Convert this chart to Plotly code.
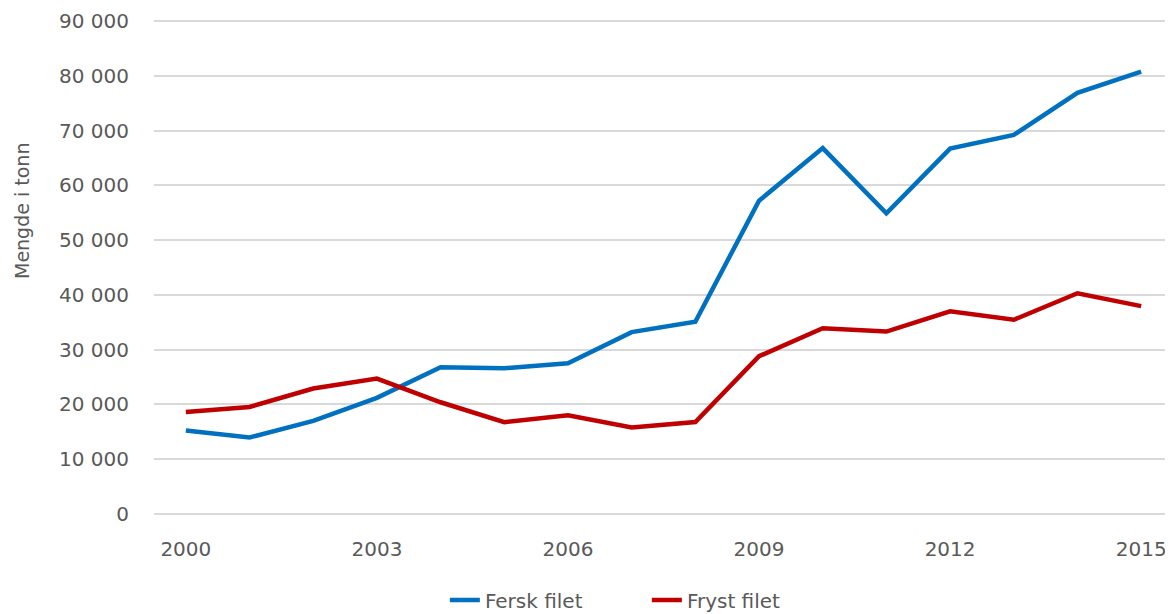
import plotly.graph_objects as go

# Data
years = list(range(2000, 2016))
fersk_filet = [15250, 13970, 17000, 21200, 26800, 26600, 27500, 33200,
               35100, 57200, 66800, 54900, 66700, 69200, 76900, 80750]
fryst_filet = [18640, 19550, 22900, 24720, 20400, 16760, 18030, 15800,
               16800, 28800, 33900, 33300, 37000, 35450, 40300, 37950]
x_ticks = [2000, 2003, 2006, 2009, 2012, 2015]
y_ticks = list(range(0, 90001, 10000))
y_labels = [f"{v:,}".replace(",", " ") for v in y_ticks]

font_name = "DejaVu Sans"
text_color = "#595959"
grid_color = "#d9d9d9"

fig = go.Figure()
fig.add_trace(go.Scatter(x=years, y=fersk_filet, mode="lines", name="Fersk filet",
                         line=dict(color="#0070C0", width=4.5)))
fig.add_trace(go.Scatter(x=years, y=fryst_filet, mode="lines", name="Fryst filet",
                         line=dict(color="#C00000", width=4.5)))

# page body has an 8px margin; figure offset accordingly, overflow hidden below
fig.update_layout(
    width=1165, height=606,
    margin=dict(l=146, r=0, t=10, b=100),
    paper_bgcolor="white", plot_bgcolor="white",
    font=dict(family=font_name, size=20, color=text_color),
    showlegend=True,
    legend=dict(orientation="h", xref="container", yref="container",
                x=0.375, xanchor="left", y=0.023, yanchor="middle",
                font=dict(size=20, color=text_color), entrywidth=157),
    annotations=[dict(text="Mengde i tonn", textangle=-90,
                      x=(22 - 154) / 1019, y=(514 - 211) / 496,
                      xanchor="center", yanchor="middle",
                      xref="paper", yref="paper", showarrow=False,
                      font=dict(size=19, color=text_color))],
)

fig.update_xaxes(range=[1999.5, 2015.5], tickvals=x_ticks, showgrid=False,
                 zeroline=False, showline=False, ticks="", ticklabelstandoff=21)
# a little headroom above 90 000 so its gridline is drawn
fig.update_yaxes(range=[0, 90548], tickvals=y_ticks, ticktext=y_labels,
                 showgrid=True, gridcolor=grid_color, gridwidth=1.5,
                 zeroline=True, zerolinecolor=grid_color, zerolinewidth=1.5,
                 showline=False, ticks="", ticklabelstandoff=24)

fig.write_html("out.html", post_script="document.body.style.overflow = 'hidden';")
